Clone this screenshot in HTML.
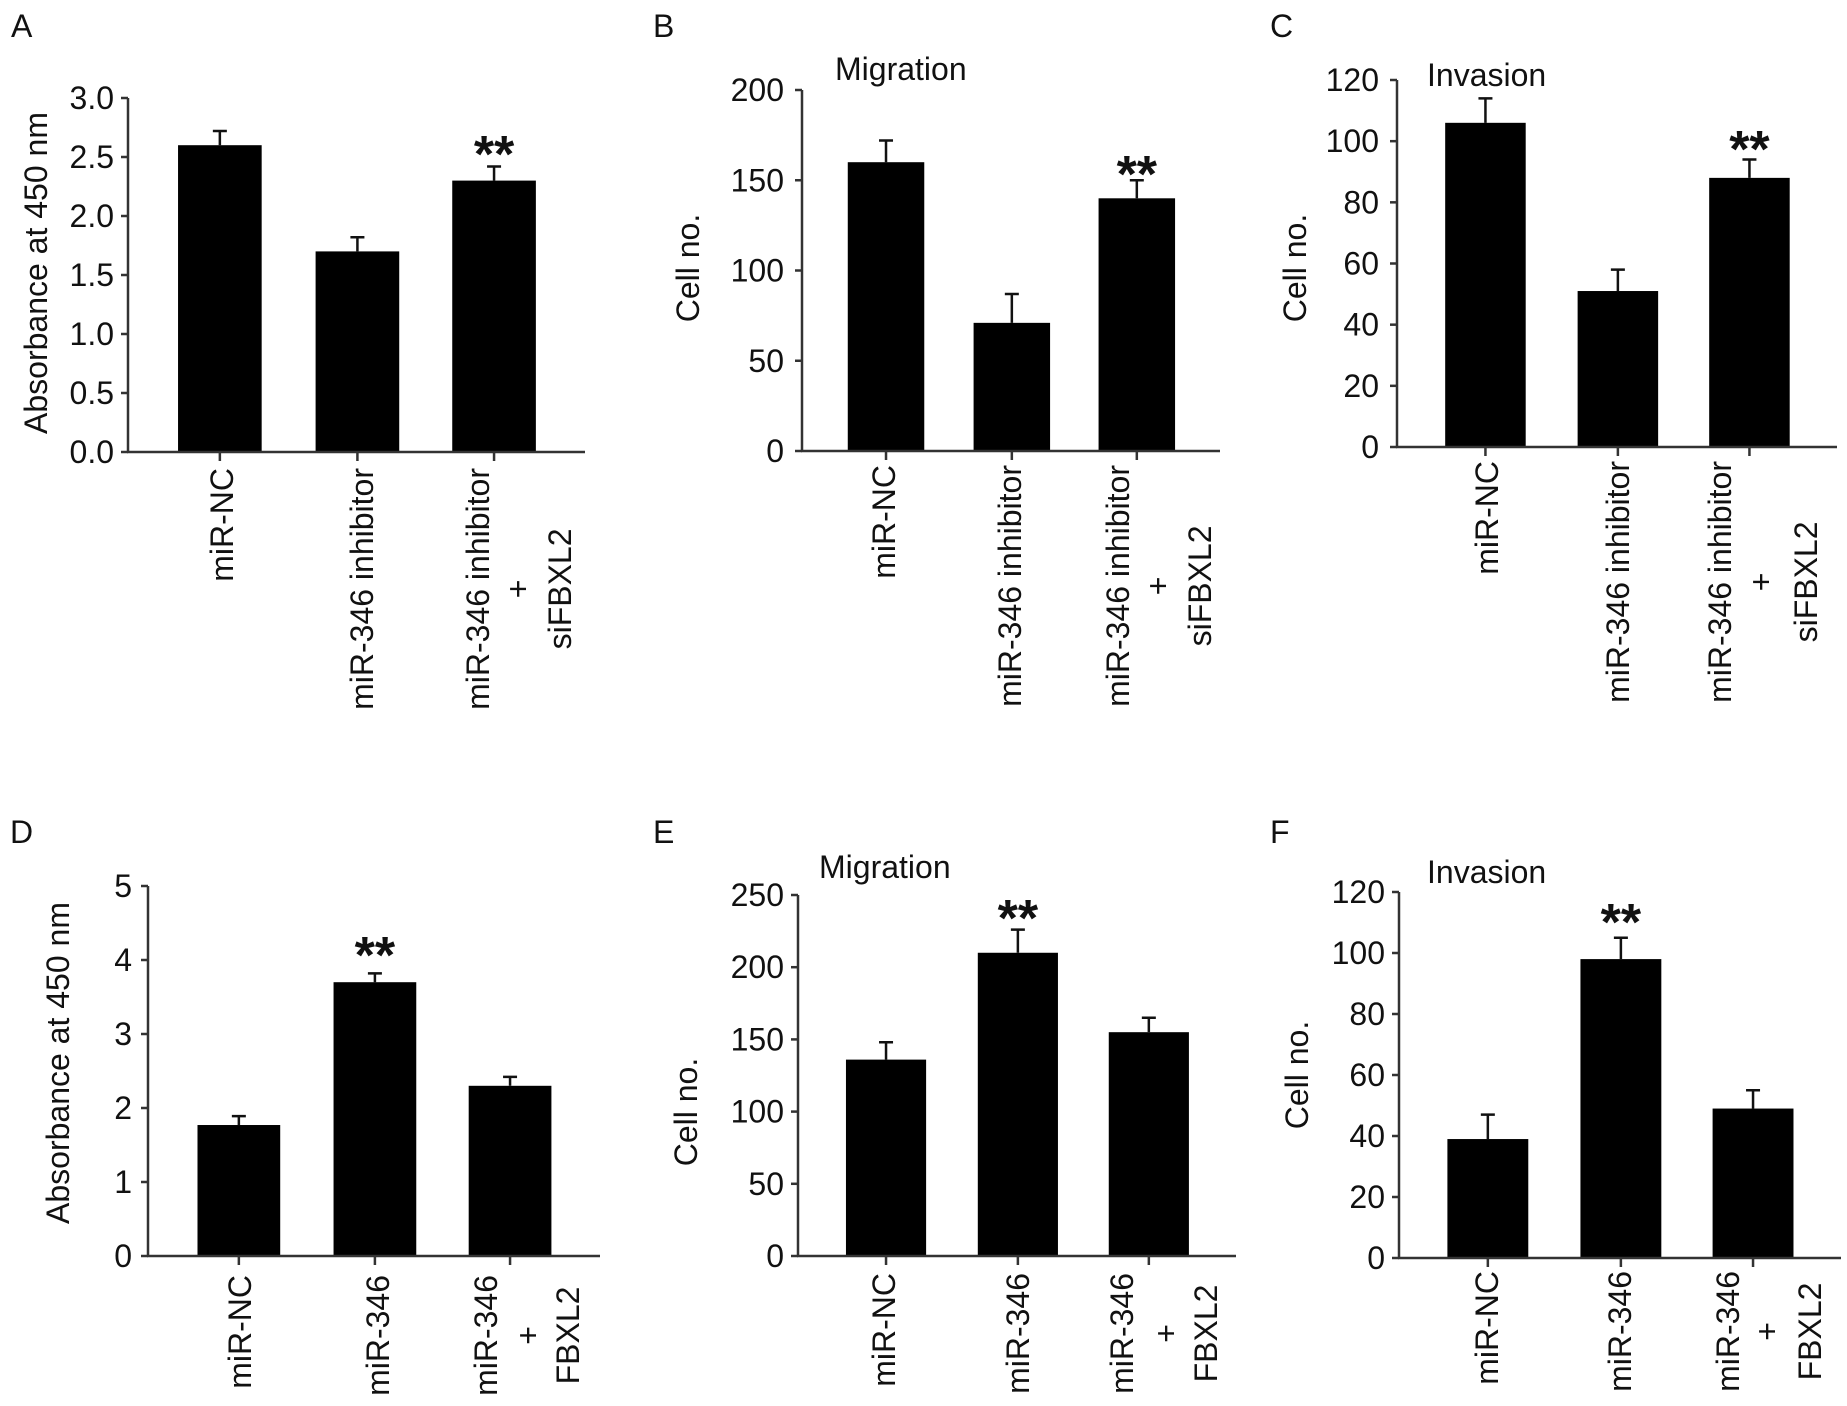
<!DOCTYPE html>
<html><head><meta charset="utf-8"><style>
html,body{margin:0;padding:0;background:#fff}
svg{display:block}
text{font-family:"Liberation Sans",Arial,sans-serif;fill:#111}
</style></head><body>
<svg id="fig" width="1847" height="1406" viewBox="0 0 1847 1406" xmlns="http://www.w3.org/2000/svg"></svg>
<script>
// ---- data ----
const catsTop = [["miR-NC"],["miR-346 inhibitor"],["miR-346 inhibitor","+","siFBXL2"]];
const catsBottom = [["miR-NC"],["miR-346"],["miR-346","+","FBXL2"]];
const aValues = [2.6, 1.7, 2.3];
const aErrors = [0.12, 0.12, 0.12];
const aTicks = ["0.0","0.5","1.0","1.5","2.0","2.5","3.0"];
const aStars = [false, false, true];
const bValues = [160, 71, 140];
const bErrors = [12, 16, 10];
const bTicks = ["0","50","100","150","200"];
const bStars = [false, false, true];
const cValues = [106, 51, 88];
const cErrors = [8, 7, 6];
const cTicks = ["0","20","40","60","80","100","120"];
const cStars = [false, false, true];
const dValues = [1.77, 3.7, 2.3];
const dErrors = [0.12, 0.12, 0.12];
const dTicks = ["0","1","2","3","4","5"];
const dStars = [false, true, false];
const eValues = [136, 210, 155];
const eErrors = [12, 16, 10];
const eTicks = ["0","50","100","150","200","250"];
const eStars = [false, true, false];
const fValues = [39, 98, 49];
const fErrors = [8, 7, 6];
const fTicks = ["0","20","40","60","80","100","120"];
const fStars = [false, true, false];

const NS = "http://www.w3.org/2000/svg";
const svg = document.getElementById("fig");
function mk(tag, attrs, parent){
  const e = document.createElementNS(NS, tag);
  for (const k in attrs) e.setAttribute(k, attrs[k]);
  (parent||svg).appendChild(e);
  return e;
}

const panels = [
 {id:"a", letter:"A", lx:11, ly:37, ax:128, ae:585, top:98, zero:452, tickR:114, ytitle:"Absorbance at 450 nm", ytx:36, yty:273, title:null, catTop:468, cols:[222,362,[478,518,560]], cats:catsTop, values:aValues, errors:aErrors, ticks:aTicks, stars:aStars, starBottom:152},
 {id:"b", letter:"B", lx:653, ly:37, ax:802, ae:1220, top:90, zero:451, tickR:784, ytitle:"Cell no.", ytx:688, yty:268, title:"Migration", tx:835, ty:80, catTop:465, cols:[884,1010,[1118,1158,1200]], cats:catsTop, values:bValues, errors:bErrors, ticks:bTicks, stars:bStars, starBottom:172},
 {id:"c", letter:"C", lx:1270, ly:37, ax:1397, ae:1837, top:80, zero:447, tickR:1379, ytitle:"Cell no.", ytx:1295, yty:268, title:"Invasion", tx:1427, ty:86, catTop:461, cols:[1487,1618,[1720,1761,1806]], cats:catsTop, values:cValues, errors:cErrors, ticks:cTicks, stars:cStars, starBottom:147},
 {id:"d", letter:"D", lx:10, ly:843, ax:148, ae:600, top:886, zero:1256, tickR:132, ytitle:"Absorbance at 450 nm", ytx:58, yty:1063, title:null, catTop:1275, cols:[240,378,[486,528,568]], cats:catsBottom, values:dValues, errors:dErrors, ticks:dTicks, stars:dStars, starBottom:953},
 {id:"e", letter:"E", lx:653, ly:843, ax:798, ae:1236, top:895, zero:1256, tickR:784, ytitle:"Cell no.", ytx:686, yty:1112, title:"Migration", tx:819, ty:878, catTop:1273, cols:[884,1018,[1122,1166,1206]], cats:catsBottom, values:eValues, errors:eErrors, ticks:eTicks, stars:eStars, starBottom:916},
 {id:"f", letter:"F", lx:1270, ly:843, ax:1399, ae:1841, top:892, zero:1258, tickR:1385, ytitle:"Cell no.", ytx:1297, yty:1075, title:"Invasion", tx:1427, ty:883, catTop:1271, cols:[1487,1620,[1728,1767,1810]], cats:catsBottom, values:fValues, errors:fErrors, ticks:fTicks, stars:fStars, starBottom:920}
];

const FS = 32;
panels.forEach(p => {
  const g = mk("g", {});
  
  
  const maxV = parseFloat(p.ticks[p.ticks.length-1]);
  const yS = v => p.zero - v / maxV * (p.zero - p.top);
  const span = p.ae - p.ax;
  const centerFr = [0.201, 0.502, 0.801];
  const xC = i => p.ax + centerFr[i] * span;
  const bw = 0.183 * span;

  const L = mk("text", {x:p.lx, y:p.ly, "font-size":32}, g);
  L.textContent = p.letter;
  
  

  if (p.title){
    const t = mk("text", {x:p.tx, y:p.ty, "font-size":FS}, g);
    t.textContent = p.title;
    
    
  }

  p.values.forEach((v,i) => {
    const r = mk("rect", {x:xC(i)-bw/2, y:yS(v), width:bw, height:p.zero-yS(v), fill:"#000"}, g);
    
    
    const ey = yS(v + p.errors[i]);
    const el = mk("path", {d:`M${xC(i)},${yS(v)} V${ey} M${xC(i)-7},${ey} H${xC(i)+7}`, stroke:"#111", "stroke-width":2.5, fill:"none"}, g);
    
    
    if (p.stars[i]){
      const s = mk("text", {x:xC(i), y:p.starBottom+20, "font-size":52, "font-weight":"bold", "text-anchor":"middle"}, g);
      s.textContent = "**";
      
      
    }
  });

  const yax = mk("line", {x1:p.ax, y1:p.top, x2:p.ax, y2:p.zero, stroke:"#333", "stroke-width":2.5}, g);
  
  
  const xax = mk("line", {x1:p.ax-1, y1:p.zero, x2:p.ae, y2:p.zero, stroke:"#333", "stroke-width":2.5}, g);
  
  

  p.ticks.forEach(tl => {
    const v = parseFloat(tl);
    const y = yS(v);
    mk("line", {x1:p.ax-7, y1:y, x2:p.ax, y2:y, stroke:"#333", "stroke-width":2.5}, g);
    const t = mk("text", {x:p.tickR, y:y+11, "font-size":FS, "text-anchor":"end"}, g);
    t.textContent = tl;
    
    
  });
  p.values.forEach((v,i) => {
    mk("line", {x1:xC(i), y1:p.zero, x2:xC(i), y2:p.zero+9, stroke:"#333", "stroke-width":2.5}, g);
  });

  const yt = mk("text", {x:0, y:0, "font-size":FS, "text-anchor":"middle", transform:`translate(${p.ytx+11},${p.yty}) rotate(-90)`}, g);
  yt.textContent = p.ytitle;
  
  

  p.cats.forEach((lines,i) => {
    if (lines.length === 1){
      const cx = p.cols[i];
      const t = mk("text", {x:0, y:0, "font-size":FS, "text-anchor":"end", transform:`translate(${cx+11},${p.catTop}) rotate(-90)`}, g);
      t.textContent = lines[0];
      
      
    } else {
      const probe = mk("text", {"font-size":FS}, g);
      probe.textContent = lines[0];
      const w = probe.getComputedTextLength();
      g.removeChild(probe);
      const cy = p.catTop + w/2;
      lines.forEach((ln,j) => {
        const cx = p.cols[i][j];
        const t = mk("text", {x:0, y:0, "font-size":FS, "text-anchor":"middle", transform:`translate(${cx+11},${cy}) rotate(-90)`}, g);
        t.textContent = ln;
        
        
      });
    }
  });
});
</script>
</body></html>
